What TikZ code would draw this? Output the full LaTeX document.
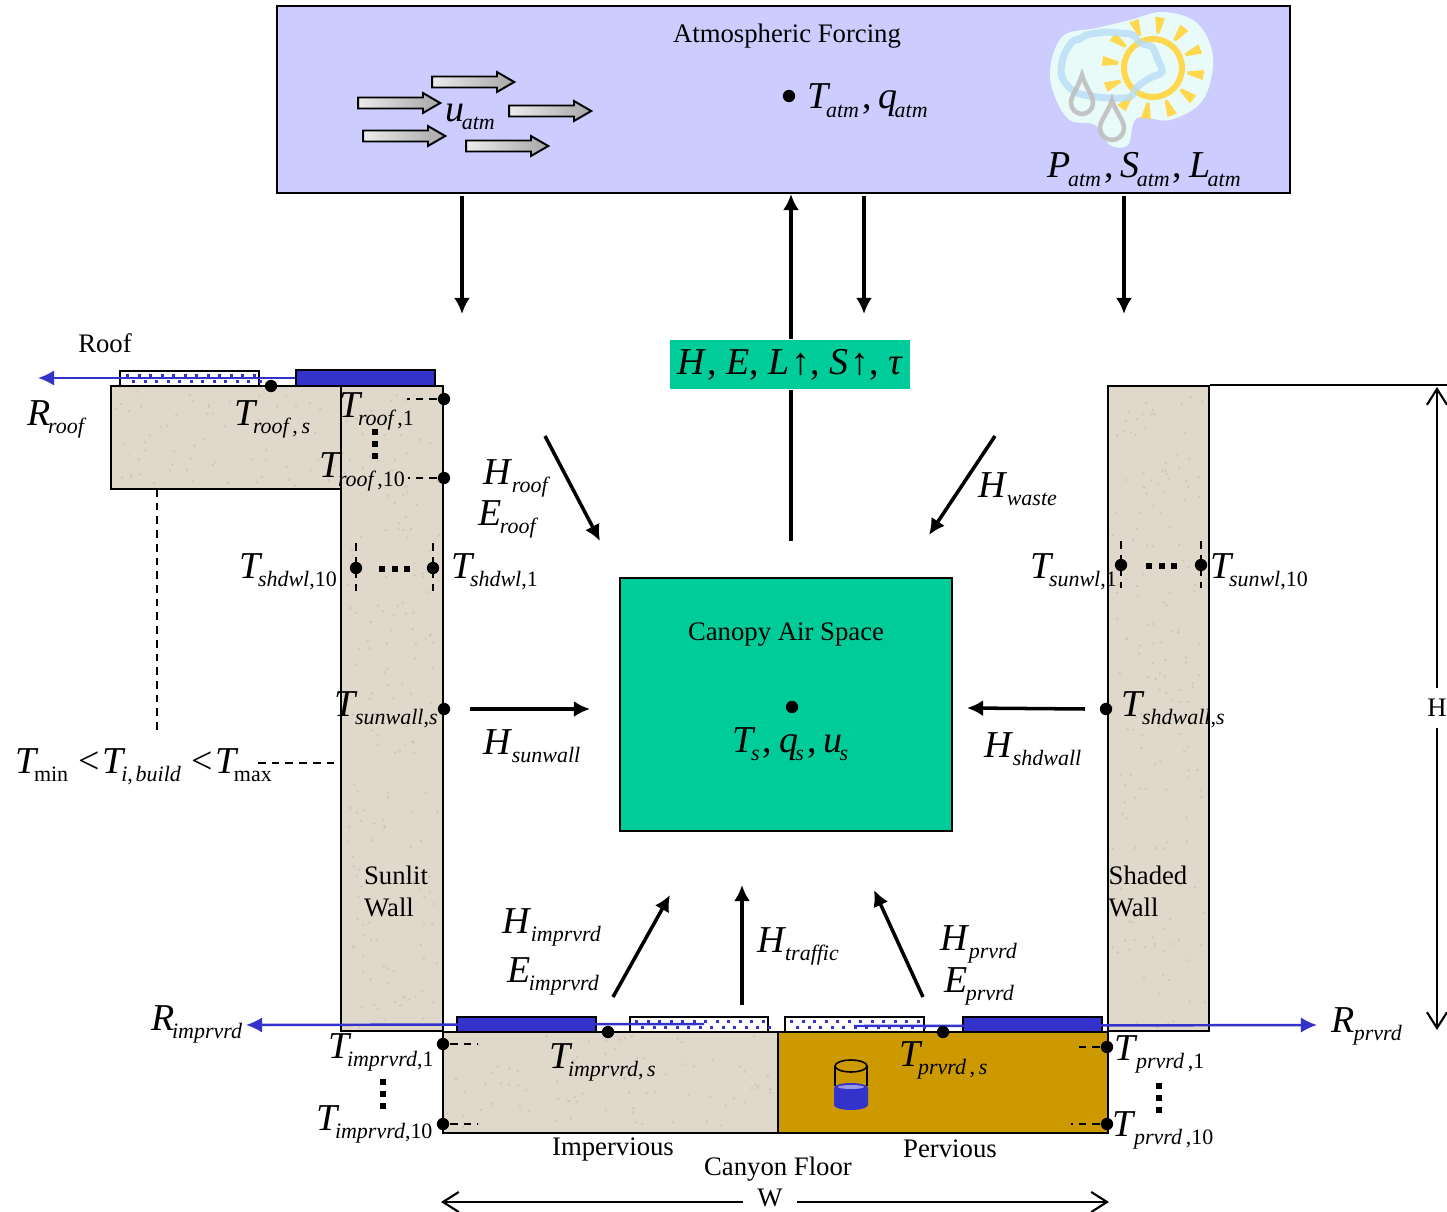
\documentclass[tikz,border=0pt]{standalone}
\usepackage{fontspec}
\setmainfont{Liberation Serif}
\usetikzlibrary{arrows.meta,shapes.arrows}

\definecolor{atmblue}{HTML}{CCCCFF}
\definecolor{canopygreen}{HTML}{00CC99}
\definecolor{sand}{HTML}{E0D8CA}
\definecolor{soil}{HTML}{CC9900}
\definecolor{pond}{HTML}{3333CC}
\definecolor{sunyellow}{HTML}{FFD84D}
\definecolor{cloudblue}{HTML}{B8DDF5}
\definecolor{haze}{HTML}{E8FBF8}

% big symbol with an italic subscript
\newcommand{\varlab}[3][-0.8pt]{{\fontsize{10.8}{12}\selectfont\itshape #2}\kern#1\raisebox{-2.3pt}{\fontsize{6.25}{7}\selectfont\itshape #3}}
\newcommand{\up}[1]{{\upshape #1}}
\newcommand{\bigc}{\kern0.9pt{\fontsize{10.8}{12}\selectfont ,}\kern0.3pt}
\newcommand{\biglt}{\kern0.5pt{\fontsize{10.8}{12}\selectfont <}\kern0.8pt}
% grains of the concrete
\newcommand{\speckle}[5]{\foreach \i in {1,...,#5} {
    \pgfmathsetmacro{\gx}{#1+rnd*(#3-#1)}
    \pgfmathsetmacro{\gy}{#2+rnd*(#4-#2)}
    \fill[sand!82!black, opacity=0.45] (\gx,\gy) circle (1.3);
}}

\tikzset{
    block/.style={draw, rectangle, line width=0.55pt, inner sep=0pt, fill=#1},
    flow/.style={-{Latex[length=4.6pt,width=4.6pt]}, line width=1pt},
    rnoff/.style={-{Latex[length=4.6pt,width=4.4pt]}, line width=0.7pt, color=pond},
    dimarrow/.style={-{Straight Barb[length=4.5pt,width=5.7pt]}, line width=0.6pt},
    dot/.style={circle, fill=black, inner sep=0pt, minimum size=3.5pt},
    shortdash/.style={dashed, dash pattern=on 2.2pt off 1.7pt, line width=0.45pt},
    var/.style={anchor=base west, inner sep=0pt},
    caption/.style={font=\fontsize{7.6}{9.1}\selectfont, inner sep=0pt, align=left},
    wind/.style={single arrow, draw, line width=0.55pt, inner sep=0.045cm, minimum height=0.82cm, minimum width=0.16cm, single arrow head extend=0.045cm, single arrow tip angle=60, single arrow head indent=0pt, left color=white!85!gray, right color=gray!70},
}

\begin{document}
\begin{tikzpicture}[x=0.01cm, y=-0.01cm]
    \useasboundingbox (0,0) rectangle (1447,1212);
    \pgfmathsetseed{7}

    % Atmosphere
    \node[block=atmblue, minimum width=10.13cm, minimum height=1.87cm] (atm) at (783.5,99.5) {};
    \node[caption] (atmtext) at (787,36) {Atmospheric Forcing};
    \node[dot] (atmdot) at (789,96) {};
    \node[var] (tatm) at (807,109) {\varlab{T}{atm}\bigc\,\varlab{q}{atm}};
    \node[var] (patm) at (1047,178) {\varlab{P}{atm}\bigc\,\varlab{S}{atm}\bigc\,\varlab{L}{atm}};
    \node[var] (uatm) at (445,121) {\varlab{u}{atm}};

    % Wind
    \node[wind] (wind1) at (394.5,103) {};
    \node[wind] (wind2) at (468.5,82) {};
    \node[wind] (wind3) at (545.5,111) {};
    \node[wind] (wind4) at (399.5,136) {};
    \node[wind] (wind5) at (502.5,146) {};

    % Sun and cloud
    \fill[haze] plot[smooth cycle, tension=0.6] coordinates {(1130,20) (1163,12) (1197,23) (1213,57) (1203,100) (1170,120) (1137,118) (1128,145) (1110,145) (1095,125) (1067,118) (1050,77) (1062,37) (1097,28)};
    \foreach \ang in {-8,22,...,322} {
        \fill[sunyellow, shift={(1153,68)}, rotate=\ang] (35,-1.5) -- (51,-5) -- (51,5) -- (35,1.5) -- cycle;
    }
    \draw[sunyellow, line width=1.7pt] (1153,68) circle (29);
    \draw[cloudblue, line width=2pt, opacity=0.8] plot[smooth cycle, tension=0.55] coordinates {(1063,58) (1072,42) (1080,39) (1086,35) (1098,33) (1105,32) (1120,33) (1133,35) (1140,43) (1152,47) (1158,60) (1162,72) (1150,78) (1137,87) (1130,97) (1113,98) (1097,97) (1075,92) (1062,77)};
    \foreach \dx/\dy/\dr in {1082/103/11, 1112/128/12} {
        \draw[gray!50, line width=1.3pt, opacity=0.9] (\dx,\dy-28) .. controls (\dx-4,\dy-15) and (\dx-\dr,\dy-8) .. (\dx-\dr,\dy) arc[start angle=180, end angle=0, radius=\dr] .. controls (\dx+\dr,\dy-8) and (\dx+4,\dy-15) .. cycle;
    }

    % Roof
    \node[block=sand, minimum width=2.3cm, minimum height=1.03cm] (roof) at (226,437.5) {};
    \speckle{115}{390}{338}{486}{60}
    \node[block=white, minimum width=1.39cm, minimum height=0.15cm] (roofsnow) at (189.5,378.5) {};
    \foreach \i in {0,...,11} {
        \fill[pond] (126+\i*11.5,374) rectangle ++(3,2.5);
        \fill[pond] (132+\i*11.5,380) rectangle ++(3,2.5);
    }
    \node[block=pond, minimum width=1.39cm, minimum height=0.16cm] (roofpond) at (365.5,378) {};
    \node[caption] (rooftext) at (105,343) {Roof};

    % Walls
    \node[block=sand, minimum width=1.02cm, minimum height=6.45cm] (sunwall) at (392,708.5) {};
    \speckle{345}{390}{440}{1028}{170}
    \node[block=sand, minimum width=1.01cm, minimum height=6.45cm] (shdwall) at (1158.5,708.5) {};
    \speckle{1112}{390}{1205}{1028}{170}
    \node[caption] (sunwalltext) at (396,891) {Sunlit\\Wall};
    \node[caption] (shdwalltext) at (1148,891) {Shaded\\Wall};

    % Canyon floor
    \node[block=sand, minimum width=3.35cm, minimum height=1.01cm] (impfloor) at (610.5,1082.5) {};
    \speckle{447}{1036}{774}{1130}{80}
    \node[block=soil, minimum width=3.3cm, minimum height=1.01cm] (prvfloor) at (943,1082.5) {};
    \node[block=pond, minimum width=1.39cm, minimum height=0.15cm] (imppond) at (526.5,1024.5) {};
    \node[block=white, minimum width=1.38cm, minimum height=0.15cm] (impsnow) at (699,1024.5) {};
    \node[block=white, minimum width=1.39cm, minimum height=0.15cm] (prvsnow) at (854.5,1024.5) {};
    \node[block=pond, minimum width=1.39cm, minimum height=0.15cm] (prvpond) at (1032.5,1024.5) {};
    \foreach \i in {0,...,11} {
        \fill[pond] (635+\i*11.5,1020) rectangle ++(3,2.5);
        \fill[pond] (641+\i*11.5,1026) rectangle ++(3,2.5);
        \fill[pond] (790+\i*11.5,1020) rectangle ++(3,2.5);
        \fill[pond] (796+\i*11.5,1026) rectangle ++(3,2.5);
    }
    \node[caption] (imptext) at (613,1149) {Impervious};
    \node[caption] (prvtext) at (950,1149) {Pervious};
    \node[caption] (floortext) at (778,1169) {Canyon Floor};

    % Bucket
    \fill[pond] (834,1088) -- (834,1105) arc[start angle=180, end angle=0, x radius=17, y radius=5] -- (868,1088) -- cycle;
    \fill[pond] (851,1088) ellipse[x radius=17, y radius=5];
    \fill[pond!50!white] (851,1087) ellipse[x radius=13, y radius=2];
    \draw[line width=0.45pt] (835,1066) -- (835,1086) (867,1066) -- (867,1086);
    \draw[line width=0.45pt] (851,1066) ellipse[x radius=16, y radius=6];

    % Canopy
    \node[block=canopygreen, minimum width=3.32cm, minimum height=2.53cm] (canopy) at (786,704.5) {};
    \node[caption] (canopytext) at (786,635) {Canopy Air Space};
    \node[dot] (canopydot) at (792,707) {};
    \node[var] (tcan) at (732,752) {\varlab{T}{s}\bigc\,\varlab{q}{s}\bigc\,\varlab{u}{s}};

    % Fluxes to the atmosphere
    \node[fill=canopygreen, minimum width=2.4cm, minimum height=0.49cm, inner sep=0pt] (flux) at (790,364.5) {\fontsize{10.8}{12}\selectfont\itshape H\upshape\kern0.6pt, \itshape E\upshape, \itshape L\upshape\kern0.6pt↑, \itshape S\upshape\kern0.6pt↑, \itshape τ};
    \coordinate (fluxfoot) at (791,541);
    \coordinate (atmup) at (791,194);
    \draw[line width=1pt] (fluxfoot) -- (flux.south -| fluxfoot);
    \draw[flow] (flux.north -| atmup) -- (atmup);

    % Forcing arrows
    \coordinate (down1a) at (462,196);
    \coordinate (down1b) at (462,314);
    \coordinate (down2a) at (864,196);
    \coordinate (down2b) at (864,314);
    \coordinate (down3a) at (1124,196);
    \coordinate (down3b) at (1124,314);
    \draw[flow] (down1a) -- (down1b);
    \draw[flow] (down2a) -- (down2b);
    \draw[flow] (down3a) -- (down3b);

    % Fluxes into the canopy
    \coordinate (hroofa) at (545,436);
    \coordinate (hroofb) at (600,541);
    \coordinate (hwastea) at (995,436);
    \coordinate (hwasteb) at (929,535);
    \coordinate (hsuna) at (470,709);
    \coordinate (hsunb) at (590,709);
    \coordinate (hshda) at (1085,709);
    \coordinate (hshdb) at (967,708);
    \coordinate (himpa) at (613,997);
    \coordinate (himpb) at (670,895);
    \coordinate (htrafa) at (742,1005);
    \coordinate (htrafb) at (742,885);
    \coordinate (hprva) at (923,997);
    \coordinate (hprvb) at (874,890);
    \draw[flow] (hroofa) -- (hroofb);
    \draw[flow] (hwastea) -- (hwasteb);
    \draw[flow] (hsuna) -- (hsunb);
    \draw[flow] (hshda) -- (hshdb);
    \draw[flow] (himpa) -- (himpb);
    \draw[flow] (htrafa) -- (htrafb);
    \draw[flow] (hprva) -- (hprvb);

    % Runoff
    \coordinate (rroofend) at (38,378);
    \coordinate (rimpa) at (704,1024);
    \coordinate (rimpend) at (246,1025);
    \coordinate (rprva) at (854,1026);
    \coordinate (rprvend) at (1317,1025);
    \draw[rnoff] (roofpond.west) -- (rroofend);
    \draw[rnoff] (rimpa) -- (rimpend);
    \draw[rnoff] (rprva) -- (rprvend);

    % Temperature points
    \node[dot] (roofs) at (271,386) {};
    \node[dot] (roof1) at (444,399) {};
    \node[dot] (roof10) at (444,478) {};
    \node[dot] (shd10) at (356,568) {};
    \node[dot] (shd1) at (433,568) {};
    \node[dot] (sun1) at (1121,565) {};
    \node[dot] (sun10) at (1201,565) {};
    \node[dot] (sunwalls) at (444,709) {};
    \node[dot] (shdwalls) at (1106,709) {};
    \node[dot] (imps) at (608,1032) {};
    \node[dot] (prvs) at (943,1032) {};
    \node[dot] (imp1) at (443,1044) {};
    \node[dot] (imp10) at (443,1124) {};
    \node[dot] (prv1) at (1107,1047) {};
    \node[dot] (prv10) at (1107,1124) {};

    % Dashes at the points
    \coordinate (roof1d) at (407,399);
    \coordinate (roof10d) at (408,478);
    \coordinate (imp1d) at (478,1044);
    \coordinate (imp10d) at (478,1124);
    \coordinate (prv1d) at (1074,1047);
    \coordinate (prv10d) at (1071,1124);
    \draw[shortdash] (roof1) -- (roof1d);
    \draw[shortdash] (roof10) -- (roof10d);
    \draw[shortdash] (imp1) -- (imp1d);
    \draw[shortdash] (imp10) -- (imp10d);
    \draw[shortdash] (prv1) -- (prv1d);
    \draw[shortdash] (prv10) -- (prv10d);
    \foreach \nm/\ya/\yb in {shd10/543/591, shd1/543/591, sun1/541/588, sun10/541/588} {
        \draw[shortdash] (\nm |- 0,\ya) -- (\nm |- 0,\yb);
    }

    % Three square dots
    \foreach \i in {0,1,2} {
        \fill (372,429+\i*12) rectangle ++(5.5,6);
        \fill (379+\i*12.5,566) rectangle ++(6,5.5);
        \fill (1146+\i*12.5,563) rectangle ++(6,5.5);
        \fill (380,1079+\i*12) rectangle ++(5.5,6);
        \fill (1156,1083+\i*12) rectangle ++(5.5,6);
    }

    % Building temperature
    \coordinate (dashroof) at (157,489);
    \coordinate (dashbuild) at (157,733);
    \coordinate (tbuilda) at (258,763);
    \coordinate (tbuildb) at (337,763);
    \draw[shortdash] (dashroof) -- (dashbuild);
    \draw[shortdash] (tbuilda) -- (tbuildb);
    \node[var] (tbuild) at (15,773) {\varlab{T}{\up{min}} \biglt\varlab{T}{i\up{,}\kern0.8pt build} \biglt\varlab{T}{\up{max}}};

    % Labels of the roof and walls
    \node[var] (rroof) at (27,425) {\varlab{R}{roof}};
    \node[var] (troofs) at (234,425) {\varlab{T}{roof\,\up{,}\,s}};
    \node[var] (troof1) at (339,417) {\varlab{T}{roof\,\up{,1}}};
    \node[var] (troof10) at (319,478) {\varlab{T}{roof\,\up{,10}}};
    \node[var] (tshd10) at (239,578) {\varlab{T}{shdwl\up{,10}}};
    \node[var] (tshd1) at (451,578) {\varlab{T}{shdwl\up{,1}}};
    \node[var] (tsun1) at (1030,578) {\varlab{T}{sunwl\up{,1}}};
    \node[var] (tsun10) at (1210,578) {\varlab{T}{sunwl\up{,10}}};
    \node[var] (tsuns) at (334,716) {\varlab[-0.2pt]{T}{sunwall\up{,}s}};
    \node[var] (tshds) at (1121,716) {\varlab[-0.2pt]{T}{shdwall\up{,}s}};

    % Labels of the fluxes
    \node[var] (hroof) at (483,484) {\varlab[0.2pt]{H}{roof}};
    \node[var] (eroof) at (478,525) {\varlab[-0.6pt]{E}{roof}};
    \node[var] (hwaste) at (978,497) {\varlab[0.2pt]{H}{waste}};
    \node[var] (hsun) at (483,754) {\varlab[0.2pt]{H}{sunwall}};
    \node[var] (hshd) at (984,757) {\varlab[0.2pt]{H}{shdwall}};
    \node[var] (himp) at (502,933) {\varlab[0.2pt]{H}{imprvrd}};
    \node[var] (eimp) at (507,982) {\varlab[-0.6pt]{E}{imprvrd}};
    \node[var] (htraf) at (757,952) {\varlab[0pt]{H}{traffic}};
    \node[var] (hprv) at (940,950) {\varlab[0.2pt]{H}{prvrd}};
    \node[var] (eprv) at (944,992) {\varlab[-0.6pt]{E}{prvrd}};

    % Labels of the floor
    \node[var] (rimp) at (151,1030) {\varlab[-0.8pt]{R}{imprvrd}};
    \node[var] (rprv) at (1331,1032) {\varlab[-0.3pt]{R}{prvrd}};
    \node[var] (timp1) at (328,1058) {\varlab{T}{imprvrd\up{,1}}};
    \node[var] (timp10) at (316,1130) {\varlab{T}{imprvrd\up{,10}}};
    \node[var] (timps) at (549,1068) {\varlab{T}{imprvrd\up{,}\,s}};
    \node[var] (tprvs) at (899,1066) {\varlab{T}{prvrd\,\up{,}\,s}};
    \node[var] (tprv1) at (1114,1060) {\varlab[0.1pt]{T}{prvrd\,\up{,1}}};
    \node[var] (tprv10) at (1112,1136) {\varlab[0.1pt]{T}{prvrd\,\up{,10}}};

    % Height and width
    \coordinate (hdimtop) at (1447,386);
    \coordinate (hdimup) at (1437,387);
    \coordinate (hdimlow) at (1437,1030);
    \coordinate (wdimleft) at (441,1202);
    \coordinate (wdimright) at (1109,1202);
    \draw[line width=0.45pt] (shdwall.north east) -- (shdwall.north east -| hdimtop);
    \node[caption, fill=white, inner ysep=3pt, inner xsep=2pt] (htext) at (1437,708) {H};
    \node[caption, fill=white, inner xsep=4pt] (wtext) at (770,1198) {W};
    \draw[dimarrow] (htext) -- (hdimup);
    \draw[dimarrow] (htext) -- (hdimlow);
    \draw[dimarrow] (wtext.west |- wdimleft) -- (wdimleft);
    \draw[dimarrow] (wtext.east |- wdimright) -- (wdimright);
\end{tikzpicture}
\end{document}
